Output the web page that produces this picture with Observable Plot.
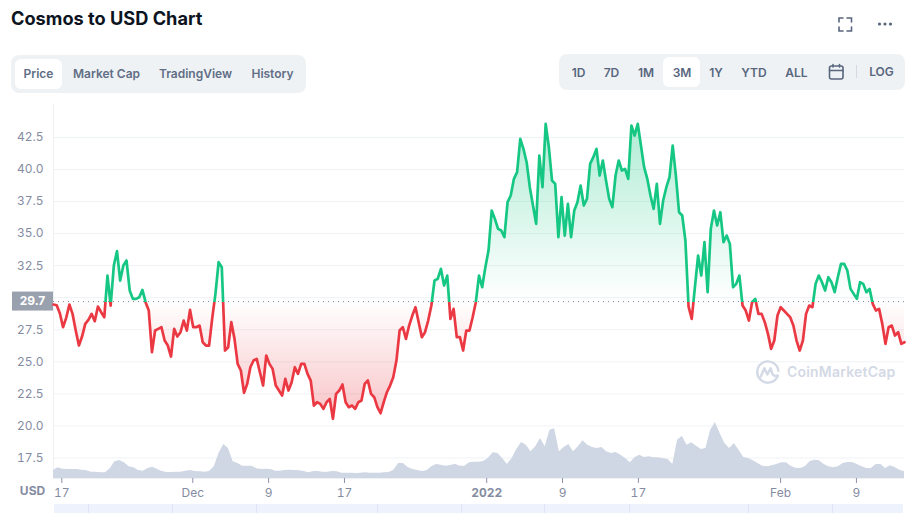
<!DOCTYPE html>
<html><head><meta charset="utf-8">
<script src="https://cdn.jsdelivr.net/npm/d3@7"></script>
<script src="https://cdn.jsdelivr.net/npm/@observablehq/plot@0.6"></script>
<style>
html,body{margin:0;padding:0;background:#fff;width:910px;height:513px;overflow:hidden;font-family:Inter,sans-serif}
#header{position:relative;height:100px;width:910px}
#title{position:absolute;left:11px;top:6px;font-size:18.2px;line-height:24px;font-weight:700;color:#0d1421;white-space:nowrap}
.panel{position:absolute;background:#eff2f5;border-radius:8px}
.on{position:absolute;background:#fff;border-radius:6px}
.lbl{position:absolute;font-size:12px;line-height:16px;font-weight:600;color:#616e85;white-space:nowrap;transform:translateX(-50%)}
#plot{position:relative;height:404px;width:910px}
#plot svg{display:block}
#nav{position:relative;height:9px;width:910px}
#nav div{position:absolute;top:0;height:9px}
#wm{position:absolute;left:755px;top:358px;width:145px;height:28px}
#wm span{position:absolute;left:32px;top:5px;font-size:14px;line-height:18px;font-weight:600;color:#d3d9e5;letter-spacing:.2px;white-space:nowrap}
</style></head>
<body>
<div id="header"></div>
<div id="plot"></div>
<div id="nav"></div>
<div id="wm"><svg width="26" height="26" viewBox="0 0 26 26" style="position:absolute;left:0;top:1px"><path d="M22.6 17.2A10.6 10.6 0 1 1 23.4 12" fill="none" stroke="#d3d9e5" stroke-width="2.4" stroke-linecap="round"/><path d="M5.8 17.4 9.4 9.2 12.4 15.4 15.6 9.2 17.6 15.4Q19.4 18 22.6 16.4" fill="none" stroke="#d3d9e5" stroke-width="2.4" stroke-linecap="round" stroke-linejoin="round"/></svg><span>CoinMarketCap</span></div>
<script>
const tabLabels = ["Price", "Market Cap", "TradingView", "History"];
const rangeLabels = ["1D", "7D", "1M", "3M", "1Y", "YTD", "ALL"];
const yGrid = [17.5, 20, 22.5, 25, 27.5, 30, 32.5, 35, 37.5, 40, 42.5];
const yTickLabels = [17.5, 20, 22.5, 25, 27.5, 32.5, 35, 37.5, 40, 42.5];
const xTicks = [new Date(Date.UTC(2021,10,17,4,30)), new Date(Date.UTC(2021,11,1)), new Date(Date.UTC(2021,11,9)), new Date(Date.UTC(2021,11,17)), new Date(Date.UTC(2022,0,9)), new Date(Date.UTC(2022,0,17)), new Date(Date.UTC(2022,1,1)), new Date(Date.UTC(2022,1,9))];
const xTickLabels = ["17", "Dec", "9", "17", "9", "17", "Feb", "9"];
const yearTick = [new Date(Date.UTC(2022,0,1))];
const domainStart = new Date(Date.UTC(2021,10,16,7,26));
const domainEnd = new Date(Date.UTC(2022,1,14,1,40));
const reference = 29.7;
const prices = [
29.47,29.41,28.79,27.70,28.43,29.47,28.74,27.44,26.27,26.97,27.96,28.27,28.74,28.17,29.31,28.87,28.48,31.73,29.39,32.51,33.63,31.34,32.51,32.90,30.56,29.91,29.91,30.04,30.61,29.65,
29.00,25.75,27.44,27.57,27.70,26.66,26.27,25.41,27.57,26.97,27.31,28.22,27.44,29.05,27.70,27.70,27.83,26.53,26.27,26.27,28.43,30.30,32.77,32.38,25.88,26.14,28.09,26.79,24.84,24.32,
22.58,23.28,24.58,25.10,25.23,24.19,23.15,25.49,24.84,24.45,23.15,22.76,22.37,23.67,22.76,23.41,24.58,24.06,24.84,
24.84,24.06,23.54,21.59,21.85,21.72,21.33,21.85,22.11,20.55,22.50,22.76,23.23,21.85,21.46,21.59,21.33,21.85,21.98,23.28,23.54,22.50,22.24,21.46,20.99,21.85,22.63,23.15,23.80,25.10,
27.44,27.70,26.79,27.83,28.61,29.26,28.09,26.92,27.31,28.22,29.39,31.34,31.47,32.25,30.95,31.73,28.35,29.13,26.92,26.92,25.88,27.44,27.44,28.48,29.65,31.73,30.82,32.38,33.68,
36.80,36.15,35.37,35.24,34.72,37.45,37.97,39.27,39.79,42.39,41.61,40.57,38.62,37.19,35.76,41.09,38.62,43.56,41.74,39.14,38.88,34.72,37.84,34.85,37.32,34.72,36.80,37.45,38.75,37.19,
37.71,40.44,40.96,41.61,39.53,40.70,39.14,37.71,37.06,39.53,40.70,39.92,40.05,39.27,43.43,42.65,43.56,41.87,40.18,39.27,37.97,36.93,38.88,35.76,37.58,38.62,39.40,41.87,39.53,36.67,36.41,34.46,29.30,
28.35,30.82,33.29,31.73,34.33,30.43,35.37,36.80,35.63,36.67,34.33,34.85,34.20,30.82,31.08,31.73,29.39,29.00,28.22,29.65,29.91,28.74,28.74,28.09,27.18,26.01,26.66,28.61,29.26,29.00,
28.74,28.48,27.83,26.66,25.88,26.66,28.74,29.39,29.26,31.08,31.73,31.21,30.56,31.60,31.21,30.43,31.60,32.64,32.64,32.12,30.69,30.30,29.91,31.21,31.08,30.43,30.69,29.52,29.00,29.13,
27.96,26.40,27.70,27.83,27.05,27.31,26.40,26.53];
const volumes = [
25,32,28,27,27,27,25,23,19,19,17,17,29,50,54,47,35,32,24,22,30,34,27,21,18,18,19,19,22,24,21,20,19,21,35,75,102,90,50,45,37,37,37,29,27,28,27,22,22,24,25,24,23,21,17,21,21,19,19,21,20,16,16,16,15,16,17,16,16,16,17,18,25,45,45,33,27,24,21,23,35,42,40,37,39,
43,37,37,47,49,49,51,61,77,75,60,42,60,87,108,100,80,95,120,95,145,149,80,93,102,80,95,113,100,93,90,93,80,75,78,70,60,47,62,70,63,65,62,62,59,57,42,115,127,100,107,97,87,90,145,168,135,105,90,105,85,63,60,53,45,37,35,38,42,47,47,37,31,30,35,50,55,53,42,35,32,35,45,48,48,42,35,30,30,42,42,30,38,33,25,20];
const volumeBase = 15.9;
const volumeUnit = 1 / 38.46;
const navDividers = [88, 172, 256, 377, 461, 544, 629, 748, 832];

const span = +domainEnd - +domainStart;
const priceRows = prices.map((p, i) => ({t: new Date(+domainStart + span * i / (prices.length - 1)), p}));
const volumeRows = volumes.map((v, i) => ({t: new Date(+domainStart + span * i / (volumes.length - 1)), v}));
const GREEN = "#16c784", RED = "#ea3943", MUTED = "#858ca2", GRID = "#eff2f5";

function defsMark(index, scales, values, dims) {
  const y = scales.y;
  const top = y(43.6), bot = y(20.5), mid = y(reference);
  const f = (mid - top) / (bot - top);
  const g = d3.create("svg:g");
  const defs = g.append("defs");
  const split = defs.append("linearGradient").attr("id", "split").attr("gradientUnits", "userSpaceOnUse")
    .attr("x1", 0).attr("x2", 0).attr("y1", top).attr("y2", bot);
  [[0, GREEN], [f, GREEN], [f, RED], [1, RED]].forEach(([o, c]) => split.append("stop").attr("offset", o).attr("stop-color", c));
  const fade = defs.append("linearGradient").attr("id", "fade").attr("gradientUnits", "userSpaceOnUse")
    .attr("x1", 0).attr("x2", 0).attr("y1", top).attr("y2", bot);
  [[0, GREEN, .34], [f, GREEN, 0], [f, RED, 0], [1, RED, .3]].forEach(([o, c, a]) =>
    fade.append("stop").attr("offset", o).attr("stop-color", c).attr("stop-opacity", a));
  g.append("rect").attr("x", 12).attr("width", dims.marginLeft - 12).attr("y", mid - 9.5).attr("height", 19).attr("fill", "#9aa1ae");
  return g.node();
}

const chart = Plot.plot({
  width: 910, height: 404,
  marginLeft: 53, marginRight: 6, marginTop: 4, marginBottom: 26,
  style: {fontFamily: "Inter, sans-serif", fontSize: "12px", background: "transparent", overflow: "visible"},
  x: {type: "time", domain: [domainStart, domainEnd]},
  y: {domain: [15.9, 45.07]},
  marks: [
    defsMark,
    Plot.gridY(yGrid, {stroke: GRID, strokeOpacity: 1, strokeWidth: 1}),
    Plot.ruleY([volumeBase], {stroke: GRID, strokeWidth: 1}),
    Plot.ruleX([domainStart], {stroke: GRID, strokeWidth: 1}),
    Plot.axisY(yTickLabels, {tickSize: 0, tickPadding: 10, tickFormat: d3.format(".1f"), fill: MUTED, label: null, fontSize: 12}),
    Plot.axisX(xTicks, {tickSize: 5, tickPadding: 5, stroke: "#8a92a6", fill: MUTED, label: null, fontSize: 12,
      tickFormat: (d) => xTickLabels[xTicks.findIndex((t) => +t === +d)]}),
    Plot.axisX(yearTick, {tickSize: 5, tickPadding: 5, stroke: "#8a92a6", fill: MUTED, label: null, fontSize: 12, fontWeight: 700,
      tickFormat: () => "2022"}),
    Plot.areaY(priceRows, {x: "t", y1: () => reference, y2: "p", fill: "url(#fade)"}),
    Plot.areaY(volumeRows, {x: "t", y1: () => volumeBase, y2: (d) => volumeBase + d.v * volumeUnit, fill: "#cfd6e4"}),
    Plot.ruleY([reference], {stroke: "#7c879b", strokeWidth: 1, strokeDasharray: "1 4"}),
    Plot.line(priceRows, {x: "t", y: "p", stroke: "url(#split)", strokeWidth: 2.7, strokeLinejoin: "round"}),
    Plot.text(["29.7"], {x: domainStart, y: reference, dx: -21, text: (d) => d, fill: "#fff", fontWeight: 700, fontSize: 12}),
    Plot.text(["USD"], {x: domainStart, y: volumeBase, dx: -21, dy: 13, text: (d) => d, fill: MUTED, fontWeight: 700, fontSize: 12})
  ]
});
document.getElementById("plot").appendChild(chart);

/* page furniture */
const H = d3.select("#header");
H.append("div").attr("id", "title").text("Cosmos to USD Chart");
H.append("div").attr("class", "panel").style("left", "11px").style("top", "55px").style("width", "295px").style("height", "38px");
H.append("div").attr("class", "on").style("left", "15px").style("top", "59px").style("width", "47px").style("height", "30px");
const tabX = [38.5, 106.5, 195.5, 272.5];
tabLabels.forEach((t, i) => H.append("div").attr("class", "lbl").style("left", tabX[i] + "px").style("top", "66px").text(t));
H.append("div").attr("class", "panel").style("left", "559px").style("top", "54px").style("width", "346px").style("height", "36px");
H.append("div").attr("class", "on").style("left", "663px").style("top", "57px").style("width", "37px").style("height", "30px");
const rangeX = [578.5, 611.5, 646, 682, 716, 754, 796.5];
rangeLabels.forEach((t, i) => H.append("div").attr("class", "lbl").style("left", rangeX[i] + "px").style("top", "65px").style("color", "#58667e").text(t));
H.append("div").attr("class", "lbl").style("left", "881.5px").style("top", "64px").style("color", "#58667e").text("LOG");
H.append("div").style("position", "absolute").style("left", "856px").style("top", "65px").style("width", "1px").style("height", "13px").style("background", "#d5dae3");
H.append("div").html('<svg width="910" height="100" style="position:absolute;left:0;top:0;pointer-events:none" fill="none" stroke="#58667e" stroke-width="1.6" stroke-linecap="round"><path d="M839 22V18H843M847 18H851.5V22M851.5 27V31H847M843 31H839V27"/><rect x="829.5" y="66" width="13.5" height="13" rx="2"/><path d="M829.5 70.5H843M833 64.5V67M839.5 64.5V67"/><g fill="#58667e" stroke="none"><circle cx="879.5" cy="24" r="1.6"/><circle cx="885" cy="24" r="1.6"/><circle cx="890.5" cy="24" r="1.6"/></g></svg>');
const N = d3.select("#nav");
N.append("div").style("left", "54px").style("width", "849px").style("background", "#eef2fd");
navDividers.forEach((x) => N.append("div").style("left", x + "px").style("width", "1px").style("background", "#dfe5f8"));
</script>
</body></html>
